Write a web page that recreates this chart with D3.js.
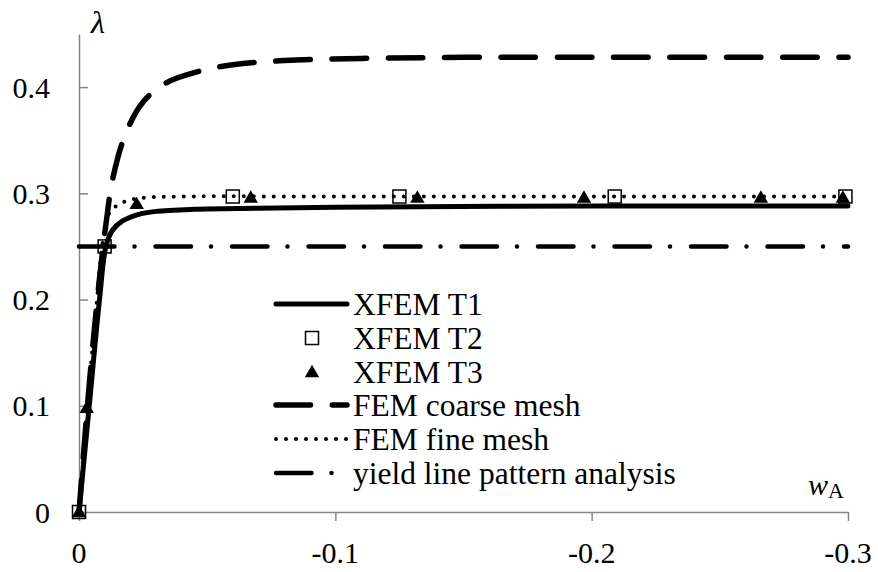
<!DOCTYPE html>
<html>
<head>
<meta charset="utf-8">
<script src="https://cdn.jsdelivr.net/npm/d3@7/dist/d3.min.js"></script>
<style>
  html, body { margin: 0; padding: 0; background: #fff; }
</style>
</head>
<body>
<svg id="chart" width="878" height="572"></svg>
<script>
// Load factor λ against deflection w_A
const xTicks = [0, -0.1, -0.2, -0.3];
const yTicks = [0, 0.1, 0.2, 0.3, 0.4];

// XFEM T1 (solid line)
const t1X = [0, -0.004, -0.008, -0.0105, -0.013, -0.017, -0.023, -0.030, -0.045, -0.070, -0.100, -0.200, -0.300];
const t1Y = [0, 0.100, 0.200, 0.250, 0.265, 0.274, 0.280, 0.283, 0.285, 0.286, 0.287, 0.288, 0.288];

// XFEM T2 (open squares)
const t2X = [0, -0.010, -0.060, -0.125, -0.209, -0.299];
const t2Y = [0, 0.250, 0.297, 0.297, 0.297, 0.297];

// XFEM T3 (filled triangles)
const t3X = [0, -0.003, -0.0225, -0.067, -0.132, -0.197, -0.266, -0.298];
const t3Y = [0, 0.098, 0.290, 0.296, 0.296, 0.296, 0.296, 0.296];

// FEM coarse mesh (long dashes)
const coarseX = [0, -0.004, -0.008, -0.011, -0.013, -0.018, -0.025, -0.034, -0.047, -0.060, -0.080, -0.110, -0.150, -0.200, -0.300];
const coarseY = [0, 0.120, 0.220, 0.280, 0.312, 0.355, 0.386, 0.404, 0.415, 0.421, 0.425, 0.427, 0.428, 0.428, 0.428];

// FEM fine mesh (dotted)
const fineX = [0, -0.004, -0.007, -0.009, -0.011, -0.013, -0.016, -0.020, -0.026, -0.040, -0.100, -0.300];
const fineY = [0, 0.120, 0.200, 0.250, 0.277, 0.285, 0.290, 0.294, 0.296, 0.297, 0.297, 0.297];

// Yield line pattern analysis (dash-dot)
const yieldX = [0, -0.300];
const yieldY = [0.250, 0.250];

const legendLabels = ["XFEM T1", "XFEM T2", "XFEM T3", "FEM coarse mesh", "FEM fine mesh", "yield line pattern analysis"];

const FONT = "Liberation Serif";
const svg = d3.select("#chart");
const x = d3.scaleLinear().domain([0, -0.3]).range([79, 848]);
const y = d3.scaleLinear().domain([0, 0.45]).range([512, 34]);

const zip = (xs, ys) => xs.map((v, i) => [v, ys[i]]);
const line = d3.line().x(d => x(d[0])).y(d => y(d[1])).curve(d3.curveCatmullRom.alpha(0.5));
const fmt = d => d === 0 ? "0" : d3.format(".1f")(d).replace("\u2212", "-");

const axisColor = "#868686";

// y axis (ticks point into the plot)
const yAxis = svg.append("g").attr("transform", `translate(${x(0)},0)`)
  .call(d3.axisRight(y).tickValues(yTicks).tickSize(9).tickSizeOuter(0).tickFormat(""));
yAxis.select(".domain").attr("stroke", axisColor).attr("stroke-width", 1.5);
yAxis.selectAll(".tick line").attr("stroke", axisColor).attr("stroke-width", 1.5);
svg.append("g").selectAll("text").data(yTicks).join("text")
  .attr("x", 50).attr("y", d => y(d)).attr("dy", "0.35em")
  .attr("text-anchor", "end").attr("font-family", FONT).attr("font-size", 30)
  .text(fmt);

// x axis (ticks point downward)
const xAxis = svg.append("g").attr("transform", `translate(0,${y(0)})`)
  .call(d3.axisBottom(x).tickValues(xTicks).tickSize(9).tickSizeOuter(0).tickFormat(""));
xAxis.select(".domain").attr("stroke", axisColor).attr("stroke-width", 1.5);
xAxis.selectAll(".tick line").attr("stroke", axisColor).attr("stroke-width", 1.5);
svg.append("g").selectAll("text").data(xTicks).join("text")
  .attr("x", d => x(d)).attr("y", 563)
  .attr("text-anchor", "middle").attr("font-family", FONT).attr("font-size", 30)
  .text(fmt);

// axis titles
svg.append("text").attr("x", 91).attr("y", 33).attr("font-family", FONT)
  .attr("font-size", 32).attr("font-style", "italic").text("λ");
const wa = svg.append("text").attr("x", 808).attr("y", 495).attr("font-family", FONT).attr("font-size", 30);
wa.append("tspan").attr("font-style", "italic").text("w");
wa.append("tspan").attr("dy", 3).attr("font-size", 22).text("A");

// series styles
const styles = {
  coarse: { w: 5.5, dash: "34.5,21.8" },
  fine: { w: 4, dash: "0,10" },
  yield: { w: 4.5, dash: "35.5,20,0,21" },
  t1: { w: 5, dash: null }
};

const plot = svg.append("g");
function drawLine(data, s) {
  return plot.append("path").datum(data).attr("d", line)
    .attr("fill", "none").attr("stroke", "#000")
    .attr("stroke-width", s.w).attr("stroke-linecap", "round").attr("stroke-linejoin", "round")
    .attr("stroke-dasharray", s.dash);
}
drawLine(zip(yieldX, yieldY), styles.yield);
const coarsePath = drawLine(zip(coarseX, coarseY), styles.coarse);
drawLine(zip(fineX, fineY), styles.fine);
drawLine(zip(t1X, t1Y), styles.t1);

// phase the coarse dashes so one dash begins at w = -0.2075
(function () {
  const node = coarsePath.node();
  const total = node.getTotalLength();
  const target = x(-0.2075);
  let lo = 0, hi = total;
  for (let k = 0; k < 40; k++) {
    const mid = (lo + hi) / 2;
    if (node.getPointAtLength(mid).x < target) lo = mid; else hi = mid;
  }
  const period = 34.5 + 21.8;
  const off = ((-(lo + 2.75)) % period + period) % period;
  coarsePath.attr("stroke-dashoffset", off);
})();

const sq = 13, tri = d3.symbol().type(d3.symbolTriangle).size(90);
plot.append("g").selectAll("rect").data(zip(t2X, t2Y)).join("rect")
  .attr("x", d => x(d[0]) - sq / 2).attr("y", d => y(d[1]) - sq / 2)
  .attr("width", sq).attr("height", sq)
  .attr("fill", "none").attr("stroke", "#000").attr("stroke-width", 1.5);
plot.append("g").selectAll("path").data(zip(t3X, t3Y)).join("path")
  .attr("d", tri).attr("transform", d => `translate(${x(d[0])},${y(d[1]) + 1})`)
  .attr("fill", "#000");

// legend
const legY = [304, 338, 372, 405, 439, 473];
const lx0 = 276, lx1 = 347, ltx = 353;
const leg = svg.append("g");
function legLine(yy, s) {
  leg.append("path").attr("d", `M${lx0},${yy}H${lx1}`)
    .attr("stroke", "#000").attr("stroke-width", s.w).attr("stroke-linecap", "round")
    .attr("stroke-dasharray", s.dash).attr("fill", "none");
}
legLine(legY[0], styles.t1);
leg.append("rect").attr("x", 312 - sq / 2).attr("y", legY[1] - sq / 2)
  .attr("width", sq).attr("height", sq).attr("fill", "none").attr("stroke", "#000").attr("stroke-width", 1.5);
leg.append("path").attr("d", tri).attr("transform", `translate(312,${legY[2] + 1})`).attr("fill", "#000");
legLine(legY[3], styles.coarse);
legLine(legY[4], styles.fine);
legLine(legY[5], styles.yield);
leg.selectAll("text").data(legendLabels).join("text")
  .attr("x", ltx).attr("y", (d, i) => legY[i]).attr("dy", "0.35em")
  .attr("font-family", FONT).attr("font-size", 31.5).text(d => d);
</script>
</body>
</html>
